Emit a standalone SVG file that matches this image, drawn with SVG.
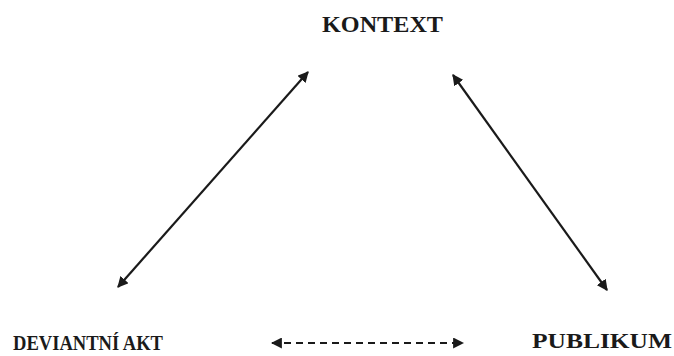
<svg xmlns="http://www.w3.org/2000/svg" width="674" height="356" viewBox="0 0 674 356">
<style>
.lbl{font-family:"Liberation Serif","Times New Roman",serif;font-weight:bold;fill:#1a1a1a}
.edge{stroke:#1a1a1a;stroke-width:2.2;fill:none}
.dash{stroke-dasharray:7 5}
</style>
<defs>
<marker id="ah" viewBox="0 0 10 10" refX="9" refY="5" markerWidth="5" markerHeight="5" orient="auto-start-reverse" markerUnits="strokeWidth">
<path d="M0,0 L10,5 L0,10 z" fill="#1a1a1a"/>
</marker>
</defs>
<rect width="674" height="356" fill="#fff"/>
<g id="connectors">
<line class="edge" x1="118" y1="287" x2="308" y2="72" marker-start="url(#ah)" marker-end="url(#ah)"/>
<line class="edge" x1="453" y1="75" x2="607" y2="290" marker-start="url(#ah)" marker-end="url(#ah)"/>
<line class="edge dash" x1="272" y1="343" x2="463" y2="343" marker-start="url(#ah)" marker-end="url(#ah)"/>
</g>
<g id="kontext"><text class="lbl" x="322" y="32" font-size="23" textLength="121" lengthAdjust="spacingAndGlyphs">KONTEXT</text></g>
<g id="deviantni-akt"><text class="lbl" x="13" y="350" font-size="22" textLength="150" lengthAdjust="spacingAndGlyphs">DEVIANTNÍ AKT</text></g>
<g id="publikum"><text class="lbl" x="532" y="348" font-size="21" textLength="140" lengthAdjust="spacingAndGlyphs">PUBLIKUM</text></g>
</svg>
